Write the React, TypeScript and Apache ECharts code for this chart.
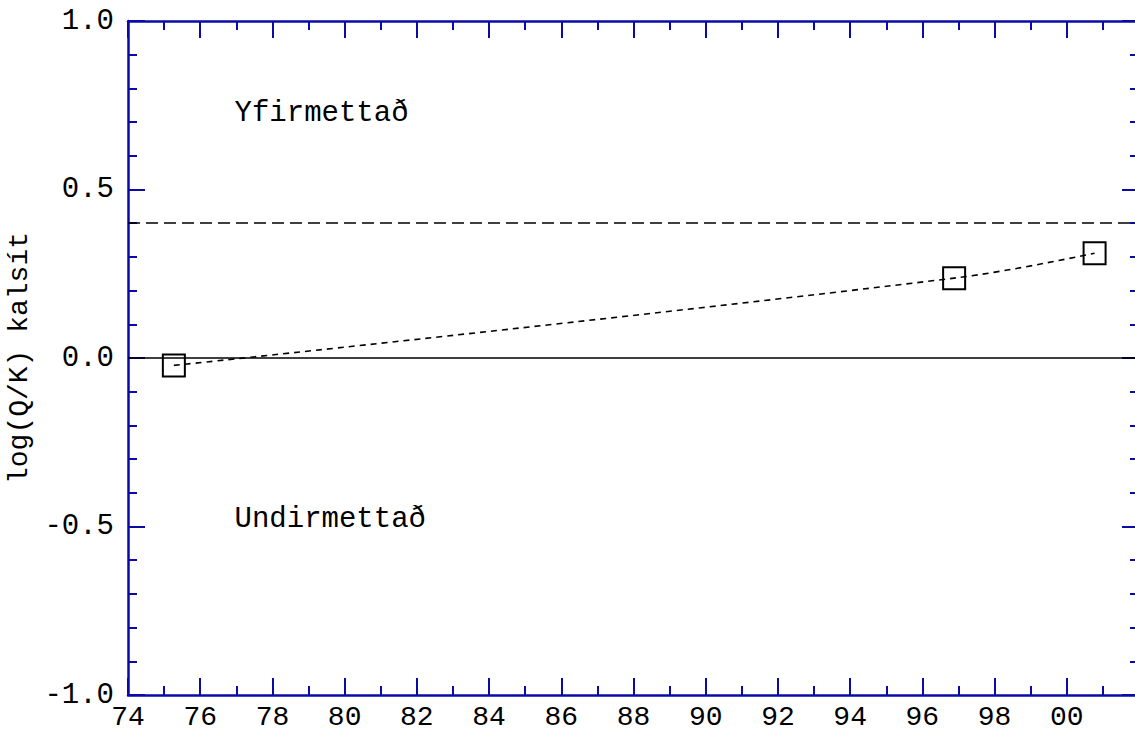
import React, { useEffect, useRef } from 'react';
import * as echarts from 'echarts';

// Data
const years = [75.27, 96.88, 100.77];
const logQK = [-0.022, 0.237, 0.311];
const zeroLine = 0;
const saturationLine = 0.4;
const regionLabels = ['Yfirmettað', 'Undirmettað'];
const regionLabelX = [76.95, 76.95];
const regionLabelY = [0.727, -0.48];
const yAxisTitle = 'log(Q/K) kalsít';
const xMin = 74;
const xMax = 102;
const yMin = -1;
const yMax = 1;

const BLUE = '#0a0aa8';
const FONT = '"Liberation Mono", "DejaVu Sans Mono", monospace';

export default function App() {
  const ref = useRef<HTMLDivElement>(null);

  useEffect(() => {
    const chart = echarts.init(ref.current!, null, { renderer: 'svg' });

    const tickCommon = {
      axisLine: { onZero: false, lineStyle: { color: BLUE, width: 2.5 } },
      axisTick: { inside: true, length: 17, lineStyle: { color: BLUE, width: 2 } },
      splitLine: { show: false },
      minorSplitLine: { show: false },
    };

    const xBase: any = {
      type: 'value',
      min: xMin,
      max: xMax,
      interval: 2,
      ...tickCommon,
      minorTick: { show: true, splitNumber: 2, length: 9, lineStyle: { color: BLUE, width: 2 } },
    };
    const yBase: any = {
      type: 'value',
      min: yMin,
      max: yMax,
      interval: 0.5,
      ...tickCommon,
      minorTick: { show: true, splitNumber: 5, length: 9, lineStyle: { color: BLUE, width: 2 } },
    };

    const data = years.map((x, i) => [x, logQK[i]]);

    chart.setOption({
      animation: false,
      backgroundColor: '#ffffff',
      grid: { left: 128, right: -4, top: 21, bottom: 36, containLabel: false, outerBoundsMode: 'none' },
      xAxis: [
        {
          ...xBase,
          position: 'bottom',
          axisLabel: {
            show: true,
            margin: 10,
            color: '#000',
            fontFamily: FONT,
            fontSize: 28,
            lineHeight: 24,
            formatter: (v: number) => (v >= xMax ? '' : String(Math.round(v) % 100).padStart(2, '0')),
          },
        },
        { ...xBase, position: 'top', axisLabel: { show: false } },
      ],
      yAxis: [
        {
          ...yBase,
          position: 'left',
          name: yAxisTitle,
          nameLocation: 'middle',
          nameGap: 92,
          nameTextStyle: { color: '#000', fontFamily: FONT, fontSize: 28 },
          axisLabel: {
            show: true,
            margin: 14,
            color: '#000',
            fontFamily: FONT,
            fontSize: 29,
            formatter: (v: number) => v.toFixed(1),
          },
        },
        { ...yBase, position: 'right', axisLabel: { show: false } },
      ],
      series: [
        {
          type: 'line',
          data,
          smooth: 0.4,
          symbol: 'rect',
          symbolSize: 22,
          itemStyle: { color: 'rgba(0,0,0,0)', borderColor: '#000', borderWidth: 2 },
          lineStyle: { color: '#000', width: 1.6, type: [6, 5] },
          z: 5,
          markLine: {
            silent: true,
            symbol: 'none',
            label: { show: false },
            data: [
              { yAxis: zeroLine, lineStyle: { type: 'solid', width: 1.6, color: '#000' } },
              { yAxis: saturationLine, lineStyle: { type: [12, 6], width: 1.6, color: '#000' } },
            ],
          },
        },
      ],
    });

    const graphics = regionLabels.map((t, i) => {
      const p = chart.convertToPixel({ xAxisIndex: 0, yAxisIndex: 0 }, [regionLabelX[i], regionLabelY[i]]) as number[];
      return {
        type: 'text',
        x: p[0],
        y: p[1],
        style: {
          text: t,
          fontFamily: FONT,
          fontSize: 29,
          fill: '#000',
          align: 'left',
          verticalAlign: 'middle',
        },
      };
    });
    chart.setOption({ graphic: graphics });

    return () => chart.dispose();
  }, []);

  return (
    <div
      ref={ref}
      style={{ position: 'fixed', left: 0, top: 0, width: 1135, height: 731, background: '#fff' }}
    />
  );
}
